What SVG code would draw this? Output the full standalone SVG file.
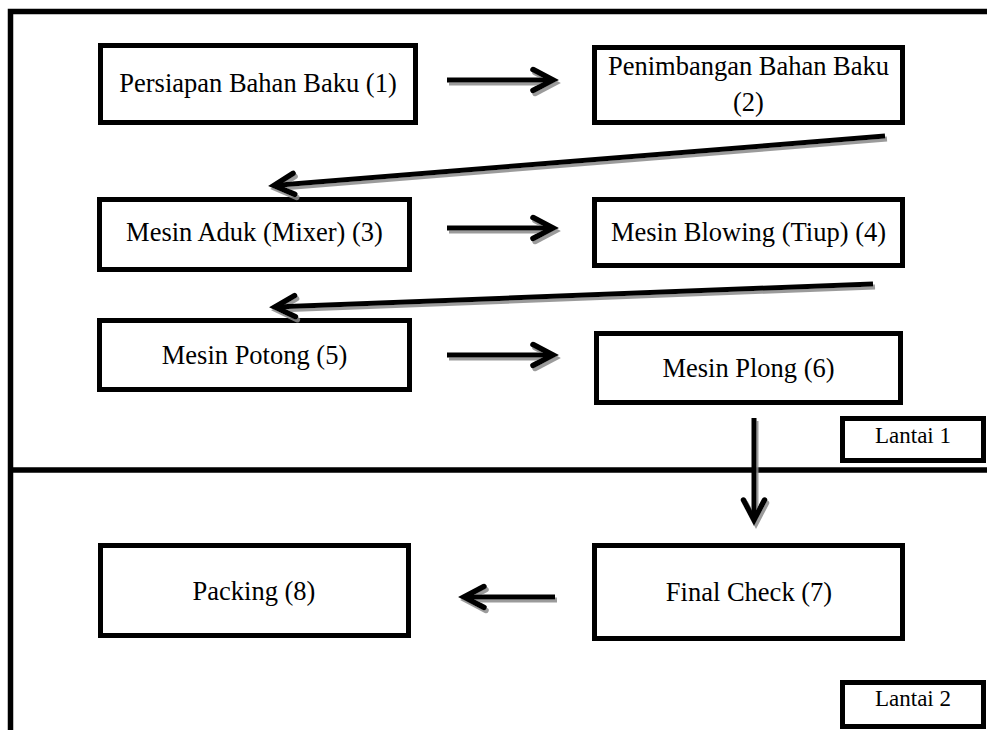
<svg xmlns="http://www.w3.org/2000/svg" width="987" height="730" viewBox="0 0 987 730">
  <defs>
    <style>
      .box { fill: #fff; stroke: #000; stroke-width: 5; }
      .frame { fill: none; stroke: #000; stroke-width: 5.5; }
      .lbl { font-family: "Liberation Serif", "Times New Roman", serif; font-size: 26.5px; fill: #000; text-anchor: middle; }
      .tag { font-family: "Liberation Serif", "Times New Roman", serif; font-size: 23px; fill: #000; text-anchor: middle; }
      .conn { fill: none; stroke: #000; stroke-width: 5; marker-end: url(#chevron); }
    </style>
    <marker id="chevron" markerUnits="userSpaceOnUse" viewBox="-26 -14 30 28" refX="0" refY="0" markerWidth="30" markerHeight="28" orient="auto" overflow="visible">
      <path d="M-20,-10.5 L0,0 L-20,10.5" fill="none" stroke="#000" stroke-width="5.5" stroke-linecap="round" stroke-linejoin="miter"/>
    </marker>
    <filter id="shadow" x="-10%" y="-10%" width="120%" height="120%">
      <feDropShadow dx="2" dy="3" stdDeviation="0.7" flood-color="#8a8a8a" flood-opacity="0.85"/>
    </filter>
  </defs>

  <rect width="987" height="730" fill="#fff"/>

  <!-- floor frame and divider between the two floors -->
  <g id="frame">
    <path class="frame" d="M10.5,740 V11.5 H995"/>
    <line class="frame" x1="10" y1="470" x2="995" y2="470"/>
  </g>

  <g id="n1">
    <rect class="box" x="100.5" y="45.5" width="315" height="77"/>
    <text class="lbl" x="258" y="92">Persiapan Bahan Baku (1)</text>
  </g>
  <g id="n2">
    <rect class="box" x="594.5" y="47.5" width="308" height="75"/>
    <text class="lbl" x="748.5" y="75">Penimbangan Bahan Baku</text>
    <text class="lbl" x="748.5" y="111">(2)</text>
  </g>
  <g id="n3">
    <rect class="box" x="99.5" y="199.5" width="310" height="70"/>
    <text class="lbl" x="254.5" y="241">Mesin Aduk (Mixer) (3)</text>
  </g>
  <g id="n4">
    <rect class="box" x="594.5" y="199.5" width="308" height="66"/>
    <text class="lbl" x="748.5" y="241">Mesin Blowing (Tiup) (4)</text>
  </g>
  <g id="n5">
    <rect class="box" x="99.5" y="320.5" width="310" height="69"/>
    <text class="lbl" x="254.5" y="364">Mesin Potong (5)</text>
  </g>
  <g id="n6">
    <rect class="box" x="596.5" y="333.5" width="304" height="69"/>
    <text class="lbl" x="748.5" y="377">Mesin Plong (6)</text>
  </g>
  <g id="n7">
    <rect class="box" x="594.5" y="545.5" width="308" height="93"/>
    <text class="lbl" x="749" y="601">Final Check (7)</text>
  </g>
  <g id="n8">
    <rect class="box" x="100.5" y="545.5" width="308" height="90"/>
    <text class="lbl" x="254" y="600">Packing (8)</text>
  </g>

  <g id="floor1">
    <rect class="box" x="842.5" y="418.5" width="141" height="42"/>
    <text class="tag" x="913" y="443">Lantai 1</text>
  </g>
  <g id="floor2">
    <rect class="box" x="842.5" y="682.5" width="141" height="44"/>
    <text class="tag" x="913" y="706">Lantai 2</text>
  </g>

  <!-- flow arrows -->
  <g id="connectors" filter="url(#shadow)">
    <path class="conn" d="M447,80 L553,80"/>
    <path class="conn" d="M885,136 L274,185.5"/>
    <path class="conn" d="M447,228 L553,228"/>
    <path class="conn" d="M873,284 L275,307"/>
    <path class="conn" d="M447,355 L553,355"/>
    <path class="conn" d="M754,418 L754,520"/>
    <path class="conn" d="M555,597 L464,597"/>
  </g>
</svg>
